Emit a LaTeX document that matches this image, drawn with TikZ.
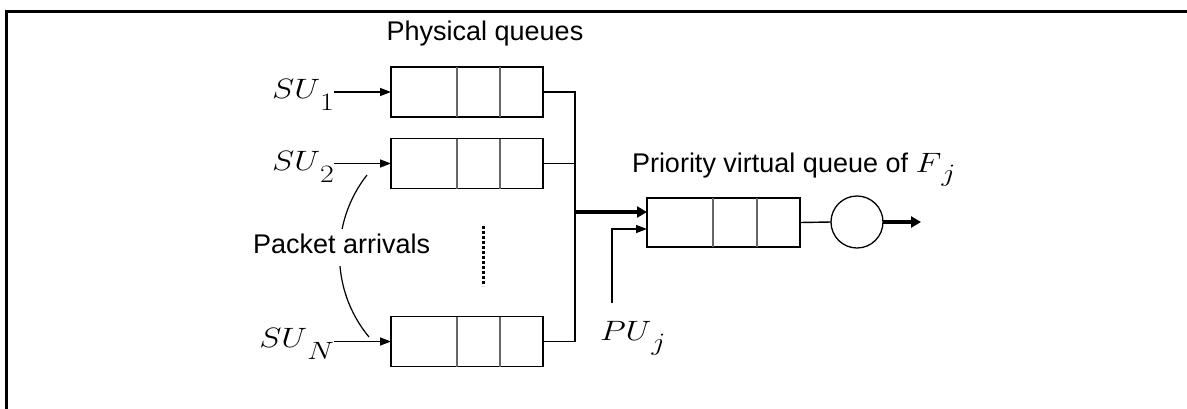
\RequirePackage{fix-cm}
\documentclass[tikz,border=0pt]{standalone}
\usepackage{graphicx}
\usepackage{fontspec}
\newfontfamily\lsans{Liberation Sans}
\usetikzlibrary{arrows.meta,calc}
\newcommand{\mlab}[3][12pt]{\scalebox{1.2}[1]{\fontsize{28}{30}\selectfont$#2$\raisebox{-#1}{\fontsize{25}{27}\selectfont$#3$}}}
\begin{document}
\begin{tikzpicture}[x=1pt,y=-1pt,
  every node/.style={inner sep=0pt, outer sep=0pt},
  qbox/.style={draw, line width=1.3pt, minimum width=152pt, minimum height=50pt},
  divline/.style={draw=black!60, line width=1.3pt},
  wire/.style={line width=1.4pt},
  arr/.style={line width=1.4pt, -{Triangle[length=11pt,width=8pt]}},
  fatarr/.style={line width=3.5pt, -{Triangle[length=10pt,width=11pt]}},
  lbl/.style={font=\lsans\fontsize{27}{30}\selectfont},
]
\useasboundingbox (0,0) rectangle (1187,408);
% frame
\draw[line width=3pt] (6,409) -- (6,11) -- (1188,11);

% physical queues
\node[qbox] (q1) at (467,92) {};
\node[qbox] (q2) at (467,163.5) {};
\node[qbox] (qN) at (467,341.5) {};
\foreach \q in {q1,q2,qN}{
  \draw[divline] ([xshift=66pt]\q.north west) -- ([xshift=66pt]\q.south west);
  \draw[divline] ([xshift=109pt]\q.north west) -- ([xshift=109pt]\q.south west);
}

% virtual queue and server
\node[qbox, minimum width=153pt, minimum height=49pt] (vq) at (723.5,222.5) {};
\draw[divline] ([xshift=66pt]vq.north west) -- ([xshift=66pt]vq.south west);
\draw[divline] ([xshift=110pt]vq.north west) -- ([xshift=110pt]vq.south west);
\node[draw, circle, line width=1.3pt, minimum size=52pt] (srv) at (857,222) {};

% labels
\node[lbl, anchor=base] (phys) at (485,40) {Physical queues};
\node[lbl, anchor=base west] (prio) at (632,172) {Priority virtual queue of \mlab[9pt]{F}{j}};
\node[anchor=base east] (su1) at (334,98) {\mlab{SU}{1}};
\node[anchor=base east] (su2) at (334,170) {\mlab{SU}{2}};
\node[anchor=base east] (suN) at (334,347) {\mlab{SU}{N}};
\node[anchor=base west] (pu) at (600,340) {\mlab[10pt]{PU}{j}};

% arrivals
\draw[arr] (su1.east |- q1.west) -- (q1.west);
\draw[arr] (su2.east |- q2.west) -- (q2.west);
\draw[arr] (suN.east |- qN.west) -- (qN.west);

% packet arrivals curve
\draw[line width=1.2pt] (367,175) .. controls (330,222) and (330,290) .. (369,337);
\node[lbl, anchor=base west, fill=white, inner xsep=3pt, inner ysep=4pt, text depth=9pt] (pkt) at (250,253) {Packet arrivals};

% dots between queues
\draw[line width=3pt, dash pattern=on 3pt off 2pt] (483,226) -- (483,286);

% collector
\coordinate (bt) at (575,92);
\coordinate (bb) at (575,341.5);
\coordinate (mid) at (575,212);
\draw[wire] (q1.east) -- (bt) -- (bb) -- (qN.east);
\draw[wire] (q2.east) -- (q2.east -| bt);
\draw[fatarr] (mid) -- (mid -| vq.west);

% primary user input
\coordinate (pt) at (612,303);
\draw[arr] (pt) |- ([yshift=-6.5pt]vq.west);

% server
\draw[wire] (vq.east) -- (srv.west);
\coordinate (out) at (921,222);
\draw[fatarr] (srv.east) -- (out);
\end{tikzpicture}
\end{document}
